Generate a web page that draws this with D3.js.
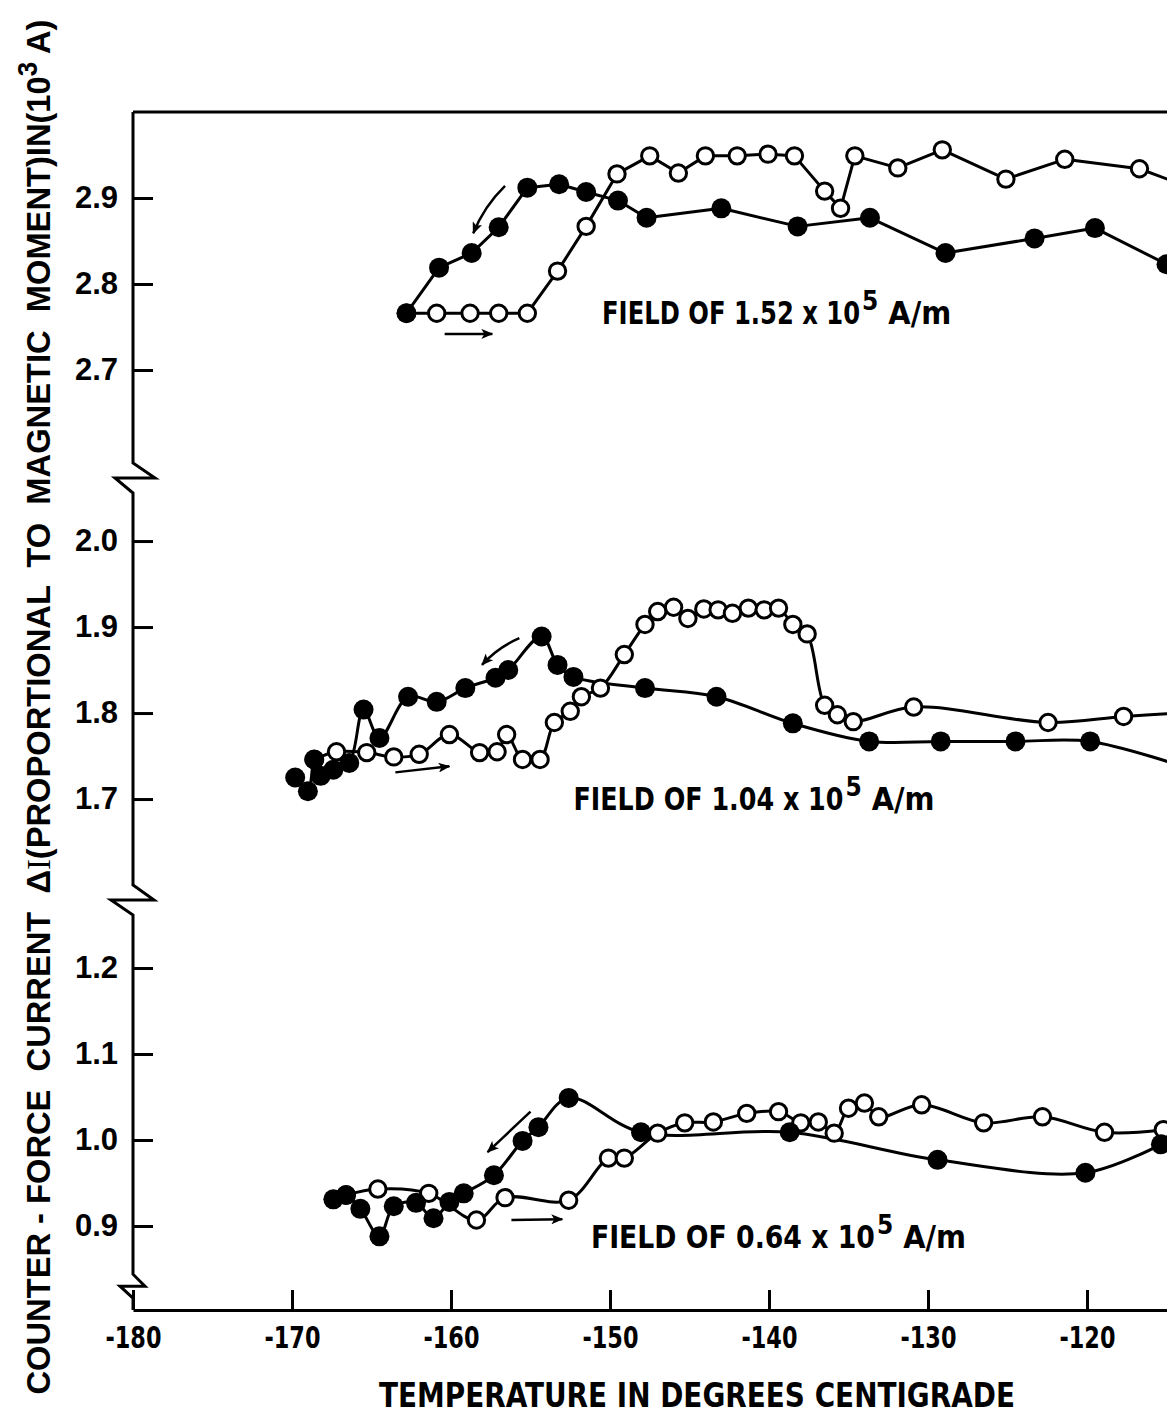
<!DOCTYPE html>
<html>
<head>
<meta charset="utf-8">
<script src="https://cdn.jsdelivr.net/npm/d3@7"></script>
<style>
  body { margin: 0; background: #fff; }
  svg { display: block; }
  .ylab text { font-family: "Liberation Sans", Arial, sans-serif; font-weight: bold; font-size: 31px; fill: #000; }
  .xlab text { font-family: "Liberation Sans Narrow", "DejaVu Sans Condensed", "Liberation Sans", sans-serif; font-weight: bold; font-size: 30px; fill: #000; }
  .tick line { stroke: #000; stroke-width: 3; }
  .cond { font-family: "Liberation Sans Narrow", "DejaVu Sans Condensed", "Liberation Sans", sans-serif; font-weight: bold; fill: #000; white-space: pre; }
</style>
</head>
<body>
<svg id="chart" width="1167" height="1416"></svg>
<script>
// ---- data (temperature in deg C, counter-force current in 10^3 A)
var tempTicks = [-180, -170, -160, -150, -140, -130, -120];
var topTicks = [2.7, 2.8, 2.9];
var midTicks = [1.7, 1.8, 1.9, 2.0];
var lowTicks = [0.9, 1.0, 1.1, 1.2];
var fieldNames = ["1.52", "1.04", "0.64"];

// field 1.52 x 10^5 A/m
var coolTemp152 = [-162.8, -160.75, -158.7, -157.0, -155.2, -153.2, -151.5, -149.5, -147.7, -143.0, -138.2, -133.65, -128.9, -123.3, -119.5, -115.0];
var coolVal152  = [2.766, 2.819, 2.836, 2.866, 2.912, 2.916, 2.907, 2.897, 2.877, 2.888, 2.867, 2.877, 2.836, 2.853, 2.865, 2.823];
var heatTemp152 = [-162.8, -160.9, -158.8, -157.0, -155.2, -153.3, -151.5, -149.56, -147.5, -145.7, -144.0, -142.0, -140.06, -138.4, -136.5, -135.5, -134.6, -131.9, -129.1, -125.1, -121.4, -116.7, -113.5];
var heatVal152  = [2.766, 2.766, 2.766, 2.766, 2.766, 2.815, 2.867, 2.928, 2.949, 2.929, 2.949, 2.949, 2.951, 2.949, 2.908, 2.888, 2.949, 2.935, 2.956, 2.922, 2.945, 2.934, 2.912];

// field 1.04 x 10^5 A/m
var coolTemp104 = [-169.8, -169.0, -168.6, -168.2, -167.4, -166.4, -165.5, -164.5, -162.7, -160.9, -159.1, -157.2, -156.4, -154.3, -153.3, -152.3, -147.8, -143.3, -138.5, -133.7, -129.2, -124.5, -119.8, -113.5];
var coolVal104  = [1.725, 1.709, 1.746, 1.727, 1.734, 1.742, 1.804, 1.771, 1.819, 1.813, 1.829, 1.841, 1.850, 1.889, 1.856, 1.842, 1.829, 1.819, 1.788, 1.767, 1.767, 1.767, 1.767, 1.735];
var heatTemp104 = [-168.6, -167.2, -165.3, -163.6, -162.0, -160.1, -158.2, -157.1, -156.5, -155.5, -154.4, -153.5, -152.5, -151.8, -150.6, -149.1, -147.8, -147.0, -146.0, -145.1, -144.1, -143.2, -142.3, -141.3, -140.3, -139.4, -138.5, -137.6, -136.5, -135.7, -134.7, -130.9, -122.45, -117.7, -113.5];
var heatVal104  = [1.746, 1.755, 1.754, 1.749, 1.752, 1.775, 1.754, 1.755, 1.775, 1.746, 1.746, 1.789, 1.802, 1.819, 1.829, 1.868, 1.903, 1.918, 1.923, 1.910, 1.921, 1.920, 1.916, 1.922, 1.920, 1.922, 1.903, 1.892, 1.809, 1.798, 1.790, 1.807, 1.789, 1.796, 1.801];

// field 0.64 x 10^5 A/m
var coolTemp064 = [-167.4, -166.6, -165.7, -164.5, -163.6, -162.2, -161.1, -160.1, -159.2, -157.3, -155.5, -154.5, -152.6, -148.05, -138.7, -129.4, -120.1, -115.35];
var coolVal064  = [0.931, 0.936, 0.920, 0.888, 0.923, 0.927, 0.909, 0.928, 0.938, 0.959, 0.999, 1.015, 1.049, 1.009, 1.009, 0.977, 0.962, 0.995];
var heatTemp064 = [-166.6, -164.6, -161.4, -158.4, -156.6, -152.6, -150.1, -149.1, -147.0, -145.3, -143.5, -141.4, -139.4, -138.0, -136.9, -135.9, -135.0, -134.0, -133.1, -130.4, -126.5, -122.8, -118.9, -115.2];
var heatVal064  = [0.936, 0.943, 0.938, 0.907, 0.933, 0.930, 0.979, 0.979, 1.008, 1.020, 1.021, 1.031, 1.033, 1.020, 1.021, 1.008, 1.037, 1.043, 1.027, 1.041, 1.020, 1.027, 1.009, 1.012];

// direction arrows: panel, from (T, v) to (T, v), bend
var arrowSpecs = [
  [0, -156.6, 2.914, -158.6, 2.859, 6],
  [0, -160.4, 2.742, -157.4, 2.742, 0],
  [1, -155.7, 1.887, -158.05, 1.856, 5],
  [1, -163.5, 1.731, -160.1, 1.738, 0],
  [2, -155.0, 1.033, -157.7, 0.986, 0],
  [2, -156.2, 0.907, -153.0, 0.908, 0]
];
// where the "FIELD OF ..." captions start (T, v)
var labelTemp = [-150.5, -152.3, -151.2];
var labelVal = [2.753, 1.687, 0.874];

// ---- layout
var svg = d3.select("#chart");
var pxPerUnit = 860;
var panelTops = [112, 478, 900];
var panelBottoms = [478, 900, 1310];
var panelTopValues = [3.0, 2.0733, 1.2791];
var tickSets = [topTicks, midTicks, lowTicks];

var x = d3.scaleLinear().domain([-180, -110]).range([133, 1246]);

var yScales = panelTops.map(function(top, i){
  var span = (panelBottoms[i] - top) / pxPerUnit;
  return d3.scaleLinear()
    .domain([panelTopValues[i] - span, panelTopValues[i]])
    .range([panelBottoms[i], top]);
});

var series = [
  {panel: 0, temp: heatTemp152, val: heatVal152, filled: false},
  {panel: 0, temp: coolTemp152, val: coolVal152, filled: true},
  {panel: 1, temp: heatTemp104, val: heatVal104, filled: false},
  {panel: 1, temp: coolTemp104, val: coolVal104, filled: true},
  {panel: 2, temp: heatTemp064, val: heatVal064, filled: false},
  {panel: 2, temp: coolTemp064, val: coolVal064, filled: true}
];

function pointsOf(s){
  return s.temp.map(function(t, i){ return [t, s.val[i]]; });
}

// curves
series.forEach(function(s){
  var y = yScales[s.panel];
  var line = d3.line()
    .x(function(d){ return x(d[0]); })
    .y(function(d){ return y(d[1]); })
    .curve(s.panel == 0 ? d3.curveLinear : d3.curveCatmullRom.alpha(0.5));
  svg.append("path")
    .datum(pointsOf(s))
    .attr("d", line)
    .attr("fill", "none")
    .attr("stroke", "#000")
    .attr("stroke-width", 3)
    .attr("stroke-linejoin", "round");
});

// markers - open first so the filled ones sit on top
[false, true].forEach(function(filled){
  series.filter(function(s){ return s.filled == filled; }).forEach(function(s){
    var y = yScales[s.panel];
    svg.append("g").selectAll("circle")
      .data(pointsOf(s))
      .enter()
      .append("circle")
        .attr("cx", function(d){ return x(d[0]); })
        .attr("cy", function(d){ return y(d[1]); })
        .attr("r", filled ? 10 : 8.2)
        .attr("fill", filled ? "#000" : "#fff")
        .attr("stroke", "#000")
        .attr("stroke-width", filled ? 0 : 3);
  });
});

// arrows
svg.append("defs").append("marker")
  .attr("id", "head")
  .attr("viewBox", "0 0 12 10")
  .attr("refX", 11).attr("refY", 5)
  .attr("markerWidth", 12).attr("markerHeight", 10)
  .attr("markerUnits", "userSpaceOnUse")
  .attr("orient", "auto")
  .append("path")
    .attr("d", "M0,0 L12,5 L0,10 L3,5 Z")
    .attr("fill", "#000");

arrowSpecs.forEach(function(a){
  var y = yScales[a[0]];
  var x0 = x(a[1]), y0 = y(a[2]), x1 = x(a[3]), y1 = y(a[4]);
  var mx = (x0 + x1) / 2, my = (y0 + y1) / 2;
  var len = Math.sqrt((x1 - x0) * (x1 - x0) + (y1 - y0) * (y1 - y0));
  var cx = mx - a[5] * (y1 - y0) / len, cy = my + a[5] * (x1 - x0) / len;
  svg.append("path")
    .attr("d", "M" + x0 + "," + y0 + " Q" + cx + "," + cy + " " + x1 + "," + y1)
    .attr("fill", "none")
    .attr("stroke", "#000")
    .attr("stroke-width", 2.5)
    .attr("marker-end", "url(#head)");
});

// field captions - main part squeezed to width, then superscript and unit
var captionLengths = [258, 270, 284];
fieldNames.forEach(function(f, i){
  var t = svg.append("text")
    .attr("class", "cond")
    .attr("x", x(labelTemp[i]))
    .attr("y", yScales[i](labelVal[i]))
    .attr("font-size", 32);
  t.append("tspan")
    .attr("textLength", captionLengths[i])
    .attr("lengthAdjust", "spacingAndGlyphs")
    .text("FIELD OF " + f + " x 10");
  t.append("tspan").attr("dx", 2).attr("dy", -14).attr("font-size", 26).text("5");
  t.append("tspan").attr("dy", 14).text(" A/m");
});

// x axis (ticks point inward)
var xAxis = svg.append("g")
  .attr("class", "xlab")
  .attr("transform", "translate(0," + panelBottoms[2] + ")")
  .call(d3.axisBottom(x)
    .tickValues(tempTicks)
    .tickSizeInner(-20)
    .tickSizeOuter(0)
    .tickPadding(17)
    .tickFormat(function(d){ return String(d); }));
xAxis.select(".domain").attr("stroke-width", 3);
xAxis.selectAll(".tick text")
  .attr("textLength", 56)
  .attr("lengthAdjust", "spacingAndGlyphs");

// top frame line
svg.append("line")
  .attr("x1", x(-180)).attr("x2", x(-110))
  .attr("y1", panelTops[0]).attr("y2", panelTops[0])
  .attr("stroke", "#000").attr("stroke-width", 3);

// y axes, one per panel
yScales.forEach(function(y, i){
  var g = svg.append("g")
    .attr("class", "ylab")
    .attr("transform", "translate(" + x(-180) + ",0)")
    .call(d3.axisLeft(y)
      .tickValues(tickSets[i])
      .tickSizeInner(-20)
      .tickSizeOuter(0)
      .tickPadding(15)
      .tickFormat(d3.format(".1f")));
  g.select(".domain").remove();
});

// left axis with the break zigzags
var ax = x(-180);
var breaks = [[panelBottoms[0], 15, 22, 18], [panelBottoms[1], 15, 21, 22], [yScales[2](0.83), 12, 12, 13]];
var axisPath = "M" + ax + "," + panelTops[0];
breaks.forEach(function(b){
  axisPath += " L" + ax + "," + (b[0] - b[1]) +
              " L" + (ax + b[2]) + "," + b[0] +
              " L" + (ax - b[3]) + "," + b[0] +
              " L" + ax + "," + (b[0] + b[1]);
});
axisPath += " L" + ax + "," + panelBottoms[2];
svg.append("path")
  .attr("d", axisPath)
  .attr("fill", "none")
  .attr("stroke", "#000")
  .attr("stroke-width", 3)
  .attr("stroke-linejoin", "miter");

// axis titles
svg.append("text")
  .attr("class", "cond")
  .attr("x", 697).attr("y", 1407)
  .attr("text-anchor", "middle")
  .attr("font-size", 34)
  .attr("textLength", 636)
  .attr("lengthAdjust", "spacingAndGlyphs")
  .text("TEMPERATURE IN DEGREES CENTIGRADE");

var yTitle = svg.append("text")
  .attr("transform", "translate(50,707) rotate(-90)")
  .attr("text-anchor", "middle")
  .attr("font-family", "'Liberation Sans', Arial, sans-serif")
  .attr("font-weight", "bold")
  .attr("font-size", 34)
  .attr("textLength", 1375)
  .attr("lengthAdjust", "spacingAndGlyphs")
  .style("white-space", "pre");
yTitle.append("tspan").text("COUNTER - FORCE  CURRENT  \u0394");
yTitle.append("tspan").attr("font-family", "'Liberation Serif', serif").attr("font-weight", "normal").text("I");
yTitle.append("tspan").text("(PROPORTIONAL  TO  MAGNETIC  MOMENT)IN(10");
yTitle.append("tspan").attr("dy", -13).attr("font-size", 27).text("3");
yTitle.append("tspan").attr("dy", 13).text(" A)");
</script>
</body>
</html>
